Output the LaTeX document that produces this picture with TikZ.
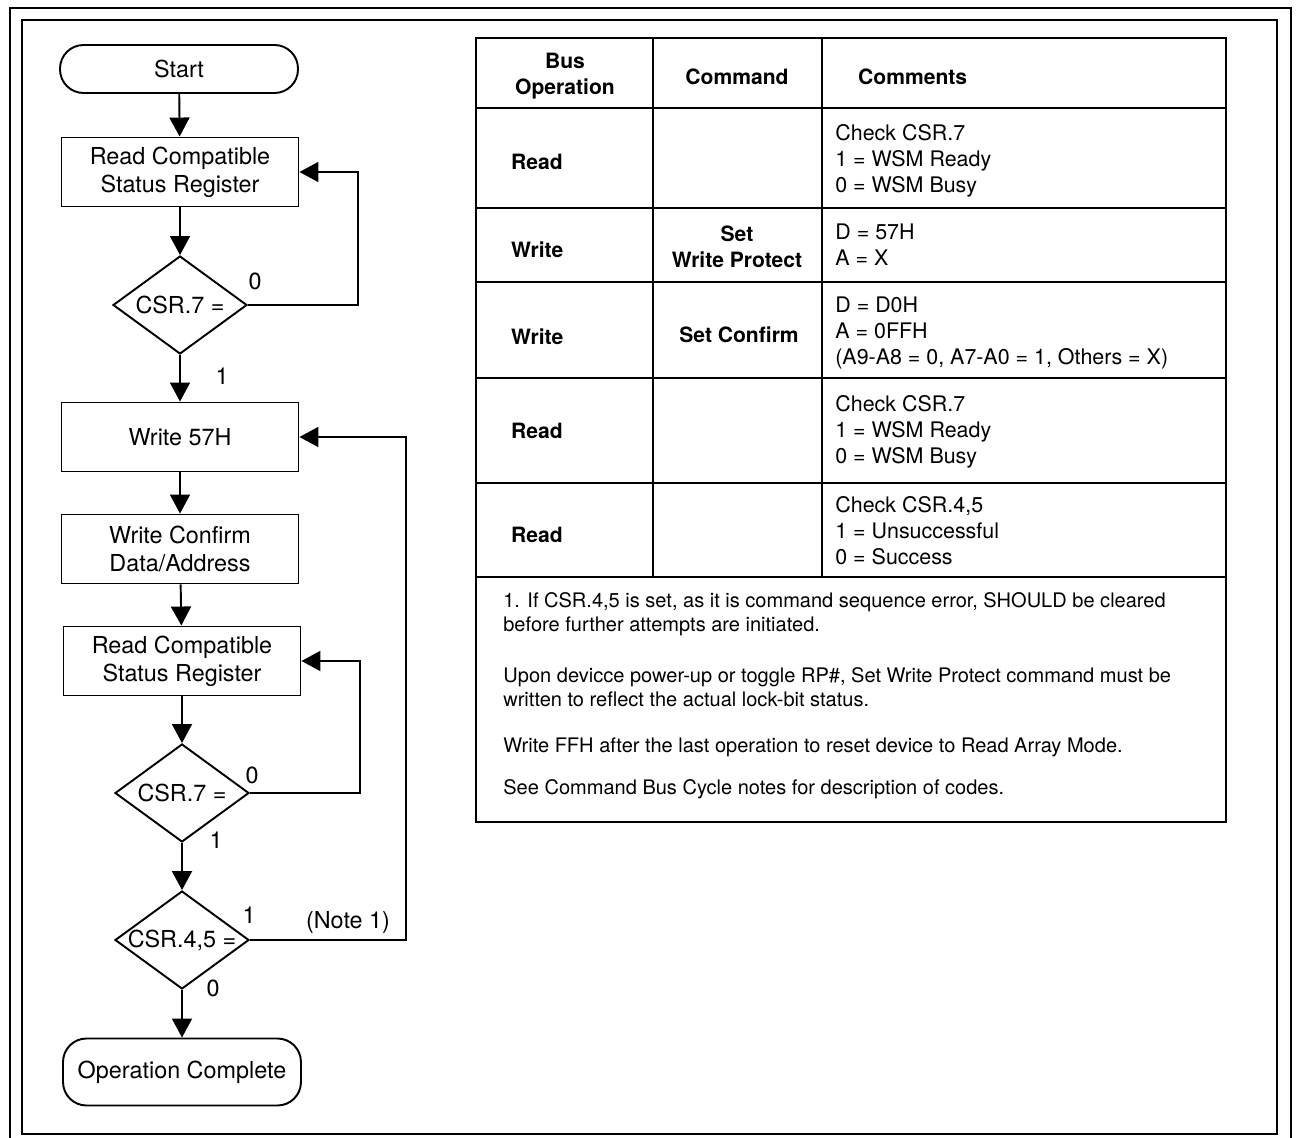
\documentclass[tikz,border=0pt]{standalone}
\usepackage{fontspec}
\setmainfont{TeX Gyre Heros}
\usetikzlibrary{arrows.meta,shapes.geometric}
\tikzset{
  flowline/.style={line width=1.1pt},
  arr/.style={flowline,-{Triangle[length=0.38cm,width=0.4cm]}},
  tabline/.style={line width=1.4pt},
  terminal/.style={draw,flowline,rounded corners=0.47cm,minimum width=4.76cm,font=\fontsize{13.3}{16}\selectfont},
  process/.style={draw,flowline,minimum width=4.74cm,minimum height=1.38cm,align=center,font=\fontsize{13.3}{16}\selectfont},
  decision/.style={draw,flowline,diamond,minimum width=2.68cm,minimum height=1.96cm,inner sep=0pt,font=\fontsize{13.3}{16}\selectfont},
  branch/.style={font=\fontsize{13.3}{16}\selectfont},
  cellhead/.style={font=\bfseries\fontsize{12}{15}\selectfont,align=center},
  cellop/.style={font=\bfseries\fontsize{12}{15}\selectfont,anchor=west},
  cell/.style={font=\fontsize{12.2}{14.8}\selectfont,align=left,anchor=west,inner sep=0pt},
  notetext/.style={font=\fontsize{11.4}{13.4}\selectfont,align=left,anchor=west,inner sep=0pt}
}
\begin{document}
\begin{tikzpicture}[x=0.02cm,y=-0.02cm]
    \useasboundingbox (0,0) rectangle (1298,1138);
    % frame
    \draw[line width=1.5pt] (10,1140) -- (10,8) -- (1291,8) -- (1291,1140);
    \draw[line width=1.2pt] (22,20) rectangle (1277,1134);

    % flowchart
    \node[terminal,minimum height=0.96cm] (start) at (179,69) {Start};
    \node[process] (read1) at (180,172) {Read Compatible\\Status Register};
    \node[decision] (csr1) at (180,305) {\makebox[0pt]{CSR.7 =}};
    \node[process] (wr57) at (180,437) {Write 57H};
    \node[process] (wrcf) at (180,549) {Write Confirm\\Data/Address};
    \node[process] (read2) at (182,661) {Read Compatible\\Status Register};
    \node[decision] (csr2) at (182,793) {\makebox[0pt]{CSR.7 =}};
    \node[decision] (csr3) at (182,940) {\makebox[0pt]{CSR.4,5 =}};
    \node[terminal,minimum height=1.34cm] (done) at (182,1072) {Operation Complete};

    \draw[arr] (start) -- (read1);
    \draw[arr] (read1) -- (csr1);
    \draw[arr] (csr1) -- (wr57);
    \draw[arr] (wr57) -- (wrcf);
    \draw[arr] (wrcf) -- (read2);
    \draw[arr] (read2) -- (csr2);
    \draw[arr] (csr2) -- (csr3);
    \draw[arr] (csr3) -- (done);
    \draw[arr] (csr1.east) -- ++(110,0) |- (read1.east);
    \draw[arr] (csr2.east) -- ++(110,0) |- (read2.east);
    \draw[arr] (csr3.east) -- ++(156,0) |- (wr57.east);

    \node[branch] (c1no) at (255,281) {0};
    \node[branch] (c1yes) at (222,376) {1};
    \node[branch] (c2no) at (252,775) {0};
    \node[branch] (c2yes) at (216,840) {1};
    \node[branch] (c3err) at (249,915) {1};
    \node[branch] (c3ok) at (213,988) {0};
    \node[branch] (note) at (348,922) {(Note 1)};

    % table
    \draw[tabline] (476,38) rectangle (1226,822);
    \foreach \y in {108,208,282,378,483,577}
        \draw[tabline] (476,\y) -- (1226,\y);
    \foreach \x in {653,822}
        \draw[tabline] (\x,38) -- (\x,577);

    \node[cellhead] (hbus) at (565,76) {Bus\\Operation};
    \node[cellhead] (hcmd) at (737,77) {Command};
    \node[cellhead,anchor=west] (hcom) at (852,77) {Comments};

    \node[cellop] (op1) at (505,162) {Read};
    \node[cellop] (op2) at (505,250) {Write};
    \node[cellop] (op3) at (505,337) {Write};
    \node[cellop] (op4) at (505,431) {Read};
    \node[cellop] (op5) at (505,535) {Read};

    \node[cellhead] (cmd2) at (737,247) {Set\\Write Protect};
    \node[cellhead] (cmd3) at (739,335) {Set Confirm};

    \node[cell] (com1) at (835,161) {Check CSR.7\\1 = WSM Ready\\0 = WSM Busy};
    \node[cell] (com2) at (835,245) {D = 57H\\A = X};
    \node[cell] (com3) at (835,333) {D = D0H\\A = 0FFH\\(A9-A8 = 0, A7-A0 = 1, Others = X)};
    \node[cell] (com4) at (835,432) {Check CSR.7\\1 = WSM Ready\\0 = WSM Busy};
    \node[cell] (com5) at (835,531) {Check CSR.4,5\\1 = Unsuccessful\\0 = Success};

    % notes
    \node[notetext] (n1) at (503,614) {1. If CSR.4,5 is set, as it is command sequence error, SHOULD be cleared\\before further attempts are initiated.};
    \node[notetext] (n2) at (503,687) {Upon devicce power-up or toggle RP\#, Set Write Protect command must be\\written to reflect the actual lock-bit status.};
    \node[notetext] (n3) at (503,747) {Write FFH after the last operation to reset device to Read Array Mode.};
    \node[notetext] (n4) at (503,789) {See Command Bus Cycle notes for description of codes.};
\end{tikzpicture}
\end{document}
